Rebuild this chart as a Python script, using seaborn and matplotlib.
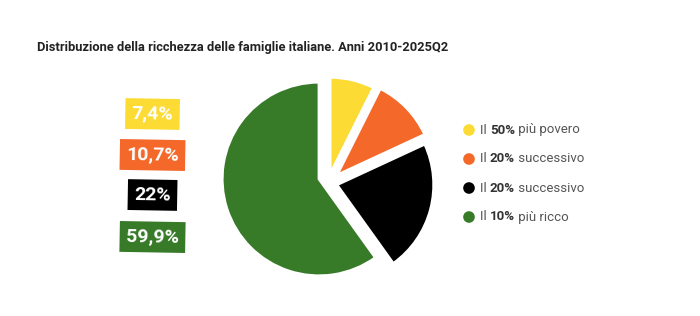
import matplotlib
matplotlib.use("Agg")
import matplotlib.pyplot as plt
import seaborn as sns
import pandas as pd

# ---- data ----
groups = ["Il 50% più povero", "Il 20% successivo", "Il 20% successivo ", "Il 10% più ricco"]
shares = [7.4, 10.7, 22.0, 59.9]
share_labels = ["7,4%", "10,7%", "22%", "59,9%"]
legend_prefix = ["Il ", "Il ", "Il ", "Il "]
legend_bold = ["50%", "20%", "20%", "10%"]
legend_suffix = [" più povero", " successivo", " successivo", " più ricco"]
colors = ["#FDDB35", "#F4682A", "#000000", "#377A28"]
title = "Distribuzione della ricchezza delle famiglie italiane. Anni 2010-2025Q2"

sns.set_theme(style="white")
plt.rcParams["font.family"] = ["Roboto", "DejaVu Sans"]

W, H = 700, 316
fig = plt.figure(figsize=(7, 3.16), dpi=100)
fig.patch.set_facecolor("white")

# overlay axes in pixel coordinates
ov = fig.add_axes([0, 0, 1, 1])
ov.set_xlim(0, W)
ov.set_ylim(H, 0)
ov.axis("off")

# title
ov.text(37, 47, title, fontsize=9.25, fontweight="bold", color="#222222",
        ha="left", va="center")

# pie
cx, cy, half = 319, 179, 121
pax = fig.add_axes([(cx - half) / W, 1 - (cy + half) / H, 2 * half / W, 2 * half / H])
wedges, _ = pax.pie(shares, colors=colors, startangle=90, counterclock=False,
                    wedgeprops=dict(edgecolor="white", linewidth=2.0))
# slice separation (layout offsets, axes units)
slice_shift = [(0.115, 0.05), (0.185, 0.04), (0.185, -0.06), (0.0, 0.0)]
for w, (dx, dy) in zip(wedges, slice_shift):
    w.set_center((dx, dy))
pax.set_xlim(-1.25, 1.25)
pax.set_ylim(-1.25, 1.25)
pax.set_aspect("equal")
pax.axis("off")

# percentage boxes
box_x = 152.5
box_y = [114, 155, 195, 237]
for lab, col, y in zip(share_labels, colors, box_y):
    ov.text(box_x, y, lab, fontsize=14, fontweight="bold", color="white",
            ha="center", va="center", rotation=-1,
            bbox=dict(boxstyle="square,pad=0.33", facecolor=col, edgecolor="none"))

# legend dots via seaborn
leg_y = [130, 159, 188, 217]
dfl = pd.DataFrame({"x": [469] * 4, "y": leg_y, "g": groups})
sns.scatterplot(data=dfl, x="x", y="y", hue="g", palette=colors, s=70,
                edgecolor="none", legend=False, ax=ov)
ov.set_xlim(0, W)
ov.set_ylim(H, 0)
ov.axis("off")

for p, b, s, y in zip(legend_prefix, legend_bold, legend_suffix, leg_y):
    t1 = ov.text(480, y, p, fontsize=9.5, color="#555555", ha="left", va="center")
    t2 = ov.annotate(b, xy=(1, 0.5), xycoords=t1, fontsize=9.5, fontweight="bold",
                     color="#333333", ha="left", va="center")
    ov.annotate(s, xy=(1, 0.5), xycoords=t2, fontsize=9.5, color="#555555",
                ha="left", va="center")

fig.savefig("out.png", dpi=100, facecolor="white")
